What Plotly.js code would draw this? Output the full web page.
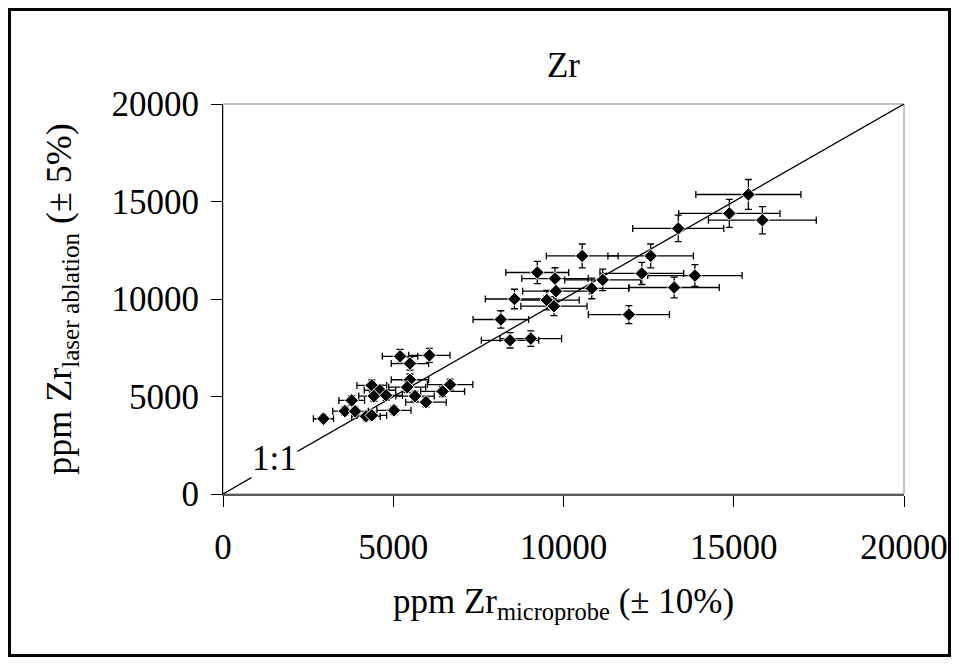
<!DOCTYPE html>
<html>
<head>
<meta charset="utf-8">
<script src="https://cdn.plot.ly/plotly-3.0.1.min.js"></script>
<style>
  html, body { margin: 0; padding: 0; background: white; }
  #wrap { position: relative; width: 959px; height: 664px; }
  #chart { position: absolute; left: 0; top: 0; width: 959px; height: 664px; }
  #frame { position: absolute; left: 8px; top: 8px; width: 937px; height: 643px;
           border: 3px solid black; pointer-events: none; }
</style>
</head>
<body>
<div id="wrap">
  <div id="chart"></div>
  <div id="frame"></div>
</div>
<script>
// Zr concentrations (ppm)
const zrMicroprobe = [15430, 14870, 15840, 13370, 12560, 10550, 12300, 13860, 11150, 9230,
                      9750, 10830, 13250, 9780, 8560, 9510, 9720, 11920, 8160, 8430,
                      9040, 5200, 6060, 5490, 5490, 4370, 5410, 6670, 6450, 4610,
                      4430, 4790, 5640, 5960, 3780, 3580, 3880, 4200, 4370, 5020, 2950];
const zrLaser      = [15360, 14390, 14040, 13620, 12210, 12210, 11310, 11200, 10980, 11360,
                      11050, 10540, 10590, 10400, 10000, 9940, 9630, 9200, 8950, 7880,
                      7970, 7060, 7110, 6690, 5860, 5570, 5480, 5610, 5260, 5320,
                      5020, 5060, 5020, 4710, 4800, 4250, 4240, 3980, 4030, 4290, 3860];
const errMicroprobePct = 10;   // ± 10%
const errLaserPct = 5;         // ± 5%
const oneToOneX = [0, 20000];
const oneToOneY = [0, 20000];
const tickValues = [0, 5000, 10000, 15000, 20000];
const tickLabels = ['0', '5000', '10000', '15000', '20000'];

const serif = '"Liberation Serif", "Times New Roman", serif';

const traces = [
  {
    x: oneToOneX, y: oneToOneY, mode: 'lines', type: 'scatter',
    line: { color: 'black', width: 1.3 }, hoverinfo: 'skip', showlegend: false
  },
  {
    x: zrMicroprobe, y: zrLaser, mode: 'markers', type: 'scatter', showlegend: false,
    marker: { symbol: 'diamond', size: 10.5, color: 'black', line: { color: 'white', width: 1 } },
    error_x: { type: 'percent', value: errMicroprobePct, color: 'black', thickness: 1.3, width: 3.5 },
    error_y: { type: 'percent', value: errLaserPct, color: 'black', thickness: 1.3, width: 3.5 }
  }
];

const layout = {
  width: 959, height: 664,
  margin: { l: 223, r: 55, t: 104, b: 170 },
  paper_bgcolor: 'white', plot_bgcolor: 'white',
  font: { family: serif, size: 35, color: 'black' },
  showlegend: false,
  title: { text: 'Zr', x: 0.5, xref: 'paper', xanchor: 'center',
           y: 1 - 65 / 664, yref: 'container', yanchor: 'middle',
           font: { family: serif, size: 35, color: 'black' } },
  xaxis: {
    range: [0, 20000], tickmode: 'array', tickvals: tickValues, ticktext: tickLabels,
    ticks: 'outside', ticklen: 11, tickwidth: 1, tickcolor: 'black',
    ticklabelstandoff: 10,
    showline: true, linecolor: '#5a5a5a', linewidth: 2, mirror: false,
    showgrid: false, zeroline: false, automargin: false,
    tickfont: { family: serif, size: 35, color: 'black' },
    title: { text: 'ppm Zr<sub>microprobe</sub> (± 10%)', standoff: 22,
             font: { family: serif, size: 35, color: 'black' } }
  },
  yaxis: {
    range: [0, 20000], tickmode: 'array', tickvals: tickValues, ticktext: tickLabels,
    ticks: 'outside', ticklen: 11, tickwidth: 1, tickcolor: 'black',
    ticklabelstandoff: 5,
    showline: true, linecolor: 'black', linewidth: 1, mirror: false,
    showgrid: false, zeroline: false, automargin: false,
    tickfont: { family: serif, size: 35, color: 'black' },
    title: { text: 'ppm Zr<sub>laser ablation</sub> (± 5%)', standoff: 28,
             font: { family: serif, size: 36, color: 'black' } }
  },
  shapes: [
    { type: 'rect', xref: 'paper', yref: 'paper', x0: 0, x1: 1, y0: 0, y1: 1,
      line: { color: '#8a8a8a', width: 1 }, layer: 'below' }
  ],
  annotations: [
    { text: '1:1', x: 1500, y: 1800, xref: 'x', yref: 'y', showarrow: false,
      bgcolor: 'white', borderpad: 0,
      font: { family: serif, size: 35, color: 'black' } }
  ]
};

Plotly.newPlot('chart', traces, layout, { displayModeBar: false, staticPlot: true });
</script>
</body>
</html>
